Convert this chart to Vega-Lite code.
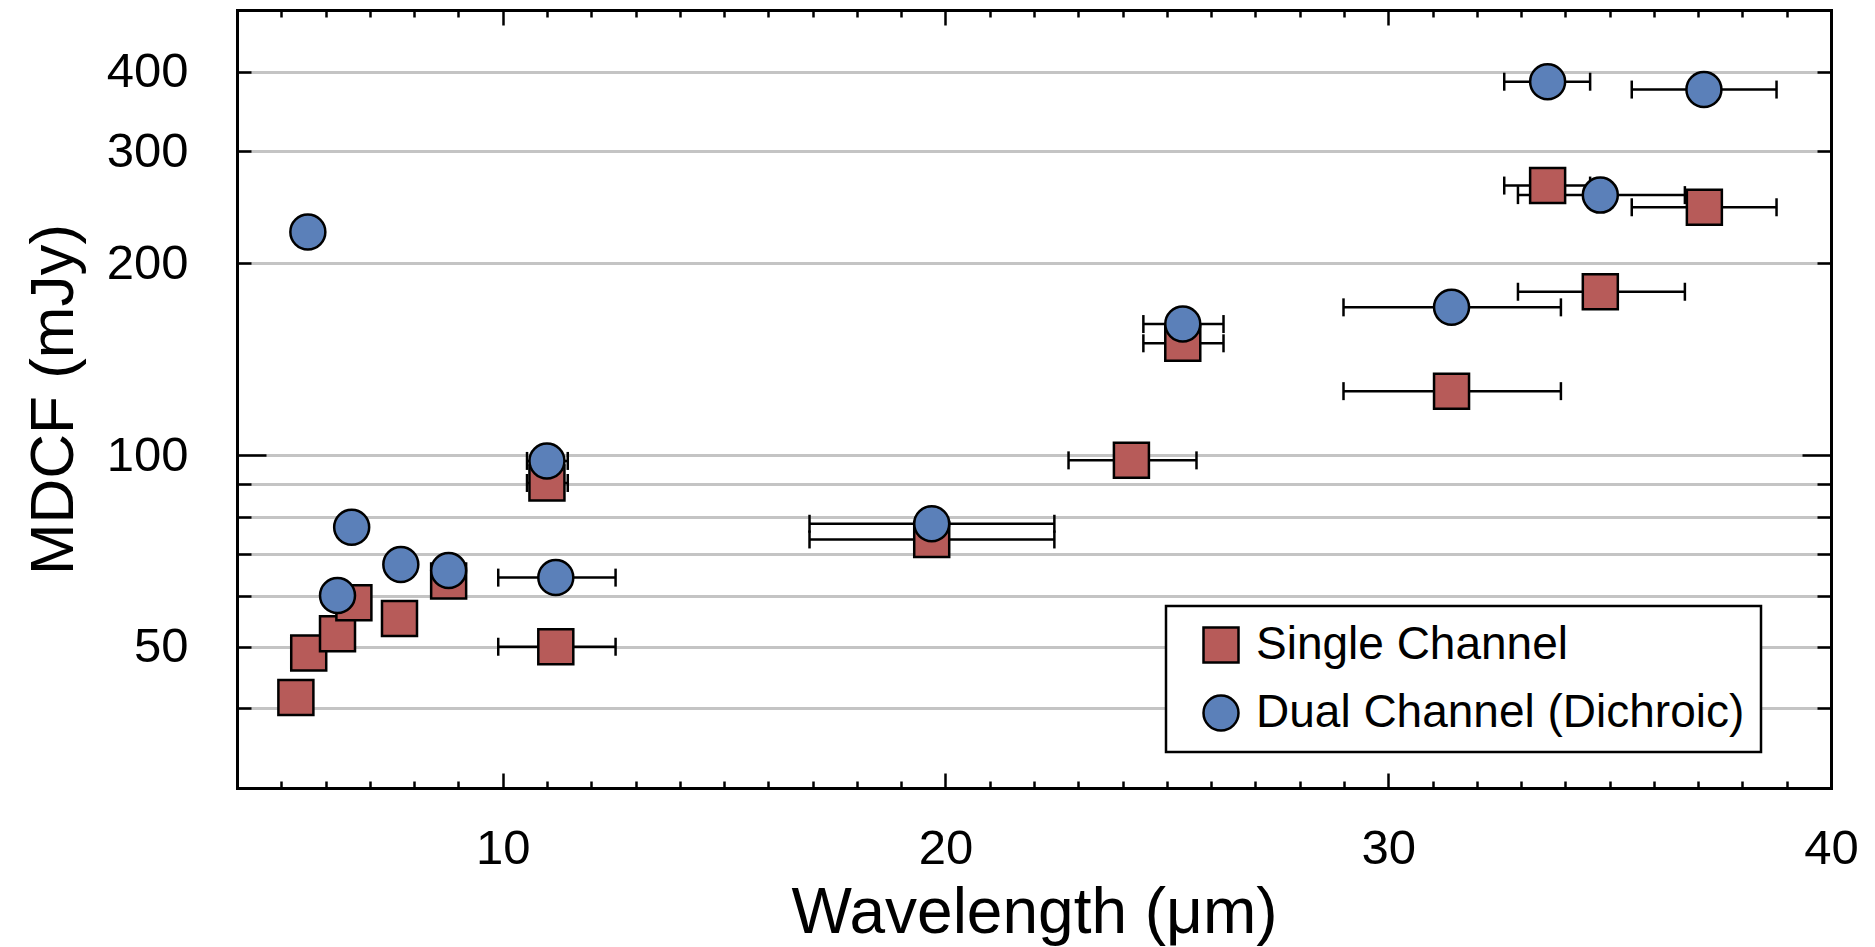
{
  "$schema": "https://vega.github.io/schema/vega-lite/v6.json",
  "width": 1594,
  "height": 778,
  "autosize": {"type": "none"},
  "padding": {"left": 237, "top": 10, "right": 44, "bottom": 159},
  "background": "white",
  "data": {
    "values": [
      {"type": "Single Channel", "wl": 5.33, "mdcf": 41.6},
      {"type": "Single Channel", "wl": 5.62, "mdcf": 48.9},
      {"type": "Single Channel", "wl": 6.27, "mdcf": 52.4},
      {"type": "Single Channel", "wl": 6.64, "mdcf": 58.6},
      {"type": "Single Channel", "wl": 7.67, "mdcf": 55.4},
      {"type": "Single Channel", "wl": 8.78, "mdcf": 63.4},
      {"type": "Single Channel", "wl": 11.0, "mdcf": 90.4, "lo": 10.55, "hi": 11.47},
      {"type": "Single Channel", "wl": 11.2, "mdcf": 50, "lo": 9.9, "hi": 12.55},
      {"type": "Single Channel", "wl": 19.69, "mdcf": 73.7, "lo": 16.93, "hi": 22.46},
      {"type": "Single Channel", "wl": 24.2, "mdcf": 98.1, "lo": 22.78, "hi": 25.67},
      {"type": "Single Channel", "wl": 25.36, "mdcf": 149.8, "lo": 24.47, "hi": 26.28},
      {"type": "Single Channel", "wl": 31.43, "mdcf": 126, "lo": 28.99, "hi": 33.9},
      {"type": "Single Channel", "wl": 34.79, "mdcf": 180.5, "lo": 32.93, "hi": 36.7},
      {"type": "Single Channel", "wl": 33.6, "mdcf": 265, "lo": 32.62, "hi": 34.56},
      {"type": "Single Channel", "wl": 37.14, "mdcf": 245, "lo": 35.5, "hi": 38.77},
      {"type": "Dual Channel (Dichroic)", "wl": 5.6, "mdcf": 224},
      {"type": "Dual Channel (Dichroic)", "wl": 6.27, "mdcf": 60.2},
      {"type": "Dual Channel (Dichroic)", "wl": 6.59, "mdcf": 77},
      {"type": "Dual Channel (Dichroic)", "wl": 7.7, "mdcf": 67.3},
      {"type": "Dual Channel (Dichroic)", "wl": 8.78, "mdcf": 65.9},
      {"type": "Dual Channel (Dichroic)", "wl": 11.0, "mdcf": 97.9, "lo": 10.55, "hi": 11.47},
      {"type": "Dual Channel (Dichroic)", "wl": 11.2, "mdcf": 64.2, "lo": 9.9, "hi": 12.55},
      {"type": "Dual Channel (Dichroic)", "wl": 19.69, "mdcf": 78, "lo": 16.93, "hi": 22.46},
      {"type": "Dual Channel (Dichroic)", "wl": 25.36, "mdcf": 160.6, "lo": 24.47, "hi": 26.28},
      {"type": "Dual Channel (Dichroic)", "wl": 31.43, "mdcf": 170.6, "lo": 28.99, "hi": 33.9},
      {"type": "Dual Channel (Dichroic)", "wl": 33.6, "mdcf": 385.8, "lo": 32.62, "hi": 34.56},
      {"type": "Dual Channel (Dichroic)", "wl": 34.79, "mdcf": 256, "lo": 32.93, "hi": 36.7},
      {"type": "Dual Channel (Dichroic)", "wl": 37.13, "mdcf": 375, "lo": 35.5, "hi": 38.77}
    ]
  },
  "resolve": {"axis": {"x": "independent", "y": "independent"}},
  "layer": [
    {
      "transform": [{"filter": "isValid(datum.lo)"}],
      "mark": {"type": "rule", "color": "black", "strokeWidth": 2.5},
      "encoding": {
        "x": {
          "field": "lo", "type": "quantitative",
          "scale": {"domain": [4, 40], "nice": false, "zero": false},
          "axis": {
            "orient": "bottom",
            "title": "Wavelength (μm)",
            "values": [5,6,7,8,9,10,11,12,13,14,15,16,17,18,19,20,21,22,23,24,25,26,27,28,29,30,31,32,33,34,35,36,37,38,39,40],
            "labelExpr": "datum.value % 10 === 0 ? datum.label : ''",
            "format": "d",
            "labelFlush": false,
            "labelOverlap": false,
            "labelFontSize": 49,
            "labelPadding": 51,
            "tickSize": {"condition": {"test": "datum.value % 10 === 0", "value": -15}, "value": -7},
            "tickWidth": 2.5,
            "tickColor": "black",
            "domain": true,
            "domainColor": "black",
            "domainWidth": 3,
            "domainCap": "square",
            "grid": false,
            "titleFontSize": 64,
            "titlePadding": 0
          }
        },
        "x2": {"field": "hi"},
        "y": {
          "field": "mdcf", "type": "quantitative",
          "scale": {"type": "log", "domain": [30, 500], "nice": false},
          "axis": {
            "orient": "left",
            "title": "MDCF (mJy)",
            "values": [40, 50, 60, 70, 80, 90, 100, 200, 300, 400],
            "format": "d",
            "labelExpr": "indexof([50, 100, 200, 300, 400], datum.value) >= 0 ? datum.label : ''",
            "labelFlush": false,
            "labelOverlap": false,
            "labelFontSize": 49,
            "labelPadding": {"condition": {"test": "datum.value === 100", "value": 78}, "value": 63},
            "tickSize": {"condition": {"test": "datum.value === 100", "value": -29}, "value": -14},
            "tickWidth": 2.5,
            "tickColor": "black",
            "domain": true,
            "domainColor": "black",
            "domainWidth": 3,
            "domainCap": "square",
            "grid": true,
            "gridColor": "#c4c4c4",
            "gridWidth": 3,
            "titleFontSize": 62,
            "titlePadding": 21
          }
        }
      }
    },
    {
      "transform": [{"filter": "isValid(datum.lo)"}],
      "mark": {"type": "tick", "orient": "vertical", "size": 18, "thickness": 2.5, "color": "black", "opacity": 1},
      "encoding": {
        "x": {
          "field": "lo", "type": "quantitative",
          "scale": {"domain": [4, 40], "nice": false, "zero": false},
          "axis": {
            "orient": "top",
            "title": null,
            "values": [5,6,7,8,9,10,11,12,13,14,15,16,17,18,19,20,21,22,23,24,25,26,27,28,29,30,31,32,33,34,35,36,37,38,39],
            "labels": false,
            "tickSize": {"condition": {"test": "datum.value % 10 === 0", "value": -15}, "value": -7},
            "tickWidth": 2.5,
            "tickColor": "black",
            "domain": true,
            "domainColor": "black",
            "domainWidth": 3,
            "domainCap": "square",
            "grid": false
          }
        },
        "y": {
          "field": "mdcf", "type": "quantitative",
          "scale": {"type": "log", "domain": [30, 500], "nice": false},
          "axis": {
            "orient": "right",
            "title": null,
            "values": [40, 50, 60, 70, 80, 90, 100, 200, 300, 400],
            "labels": false,
            "tickSize": {"condition": {"test": "datum.value === 100", "value": -29}, "value": -14},
            "tickWidth": 2.5,
            "tickColor": "black",
            "domain": true,
            "domainColor": "black",
            "domainWidth": 3,
            "domainCap": "square",
            "grid": false
          }
        }
      }
    },
    {
      "transform": [{"filter": "isValid(datum.hi)"}],
      "mark": {"type": "tick", "orient": "vertical", "size": 18, "thickness": 2.5, "color": "black", "opacity": 1},
      "encoding": {
        "x": {"field": "hi", "type": "quantitative", "scale": {"domain": [4, 40], "nice": false, "zero": false}, "axis": null},
        "y": {"field": "mdcf", "type": "quantitative", "scale": {"type": "log", "domain": [30, 500], "nice": false}, "axis": null}
      }
    },
    {
      "mark": {"type": "point", "filled": true, "size": 1225, "stroke": "black", "strokeWidth": 2.5, "opacity": 1},
      "encoding": {
        "x": {"field": "wl", "type": "quantitative", "scale": {"domain": [4, 40], "nice": false, "zero": false}, "axis": null},
        "y": {"field": "mdcf", "type": "quantitative", "scale": {"type": "log", "domain": [30, 500], "nice": false}, "axis": null},
        "color": {
          "field": "type", "type": "nominal",
          "scale": {"domain": ["Single Channel", "Dual Channel (Dichroic)"], "range": ["#b75b59", "#5b80b9"]},
          "legend": {
            "title": null, "orient": "none", "legendX": 929, "legendY": 596,
            "padding": 16, "strokeColor": "black", "fillColor": "white",
            "symbolSize": 1225, "symbolStrokeColor": "black", "symbolStrokeWidth": 2.5, "symbolOpacity": 1,
            "symbolOffset": 16, "labelOffset": 12, "labelFontSize": 46, "labelFont": "Liberation Sans",
            "labelColor": "black", "labelLimit": 1000, "rowPadding": 22,
            "encode": {"legend": {"update": {"strokeWidth": {"value": 2.5}}}}
          }
        },
        "shape": {
          "field": "type", "type": "nominal",
          "scale": {"domain": ["Single Channel", "Dual Channel (Dichroic)"], "range": ["square", "circle"]},
          "legend": {
            "title": null, "orient": "none", "legendX": 929, "legendY": 596,
            "padding": 16, "strokeColor": "black", "fillColor": "white",
            "symbolSize": 1225, "symbolStrokeColor": "black", "symbolStrokeWidth": 2.5, "symbolOpacity": 1,
            "symbolOffset": 16, "labelOffset": 12, "labelFontSize": 46, "labelFont": "Liberation Sans",
            "labelColor": "black", "labelLimit": 1000, "rowPadding": 22,
            "encode": {"legend": {"update": {"strokeWidth": {"value": 2.5}}}}
          }
        }
      }
    }
  ],
  "config": {
    "view": {"stroke": null},
    "font": "Liberation Sans",
    "axis": {
      "labelFont": "Liberation Sans",
      "titleFont": "Liberation Sans",
      "labelColor": "black",
      "titleColor": "black",
      "titleFontWeight": "normal"
    }
  }
}
